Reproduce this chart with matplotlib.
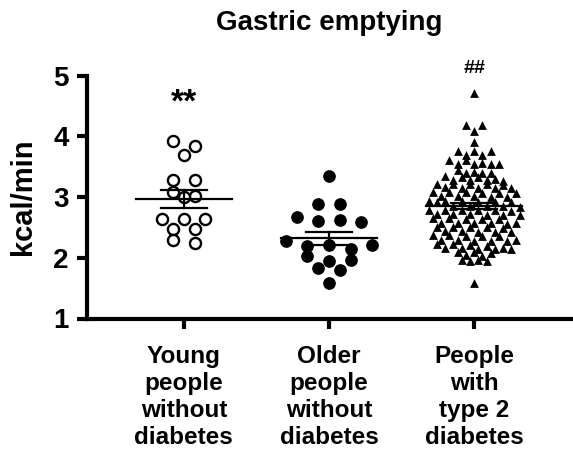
#! /usr/bin/env python
# -*- coding: utf-8 -*-

# Scatter dot plot of gastric emptying (kcal/min) for three groups,
# mean +/- SEM drawn over each cloud of points

import matplotlib
matplotlib.use("Agg")
import matplotlib.pyplot as plt
import numpy as np

plt.rcParams['font.family'] = ['Liberation Sans', 'DejaVu Sans']
plt.rcParams['font.weight'] = 'bold'

title = "Gastric emptying"
ylabel = "kcal/min"
groups = ["Young\npeople\nwithout\ndiabetes",
          "Older\npeople\nwithout\ndiabetes",
          "People\nwith\ntype 2\ndiabetes"]
marks = ["**", "", "##"]

young = [3.92, 3.84, 3.69, 3.28, 3.28, 3.09, 3.02, 3.00,
         2.63, 2.63, 2.63, 2.48, 2.48, 2.30, 2.25]

older = [3.35, 2.89, 2.88, 2.67, 2.62, 2.60, 2.59, 2.28, 2.21, 2.21,
         2.19, 2.15, 2.03, 1.96, 1.95, 1.83, 1.80, 1.59]

t2d = [4.71,
       4.19, 4.19, 4.08, 3.91,
       3.76, 3.76, 3.75, 3.69, 3.69,
       3.61, 3.61, 3.55, 3.55, 3.56, 3.54, 3.55,
       3.45, 3.40, 3.41, 3.40, 3.39, 3.33, 3.34, 3.33,
       3.28, 3.28, 3.29, 3.27, 3.28,
       3.21, 3.22, 3.21, 3.20, 3.22,
       3.15, 3.14, 3.15, 3.16, 3.14,
       3.08, 3.07, 3.08, 3.06, 3.08, 3.07,
       3.01, 3.00, 3.01, 3.00, 3.02,
       2.93, 2.92, 2.93, 2.92, 2.93, 2.91, 2.92,
       2.86, 2.85, 2.86, 2.85, 2.84,
       2.79, 2.78, 2.79, 2.78, 2.79, 2.77,
       2.72, 2.71, 2.72, 2.71, 2.70, 2.72,
       2.65, 2.64, 2.65, 2.64, 2.63,
       2.58, 2.57, 2.58, 2.57, 2.58, 2.56,
       2.51, 2.50, 2.51, 2.50, 2.49,
       2.44, 2.43, 2.44, 2.43, 2.42,
       2.37, 2.36, 2.37, 2.35, 2.36,
       2.29, 2.28, 2.29, 2.28, 2.29, 2.27,
       2.22, 2.21, 2.22, 2.20,
       2.16, 2.15, 2.16, 2.15, 2.14, 2.16,
       2.09, 2.08, 2.09,
       2.04, 2.03,
       1.96, 1.95, 1.96, 1.95,
       1.58]


def row_offsets(values, bin_h, step, base):
    """
    Spread points of one group sideways, row by row (Prism style).
    :param values: y values of the group
    :return: x offsets in data units
    """
    values = np.asarray(values, dtype=float)
    offsets = np.zeros(len(values))
    bins = np.floor((values - base) / bin_h).astype(int)
    for b in np.unique(bins):
        idx = np.where(bins == b)[0]
        idx = idx[np.argsort(-values[idx], kind='stable')]
        n = len(idx)
        slots = np.arange(n) - (n - 1) / 2.0
        order = np.concatenate([slots[::2], slots[1::2]])
        offsets[idx] = order * step
    return offsets


def mean_sem(ax, x, values, half_w=0.33, half_e=0.16):
    values = np.asarray(values, dtype=float)
    m = values.mean()
    sem = values.std(ddof=1) / np.sqrt(len(values))
    ax.plot([x - half_w, x + half_w], [m, m], color='k', lw=1.6, zorder=4)
    ax.plot([x, x], [m - sem, m + sem], color='k', lw=1.6, zorder=4)
    for y in (m - sem, m + sem):
        ax.plot([x - half_e, x + half_e], [y, y], color='k', lw=1.6, zorder=4)


fig = plt.figure(figsize=(5.73, 4.54), dpi=100)
ax = fig.add_axes([87 / 573, 135.5 / 454, 484 / 573, 243 / 454])

# open circles, filled circles, triangles
x0 = 0 + row_offsets(young, 0.2, 0.149, 2.2)
ax.scatter(x0, young, s=64, facecolors='white', edgecolors='k',
           linewidths=1.7, zorder=3)
x1 = 1 + row_offsets(older, 0.2, 0.149, 1.5)
ax.scatter(x1, older, s=66, color='k', zorder=3)
x2 = 2 + row_offsets(t2d, 0.14, 0.057, 1.55)
ax.scatter(x2, t2d, s=40, marker='^', color='k', linewidths=0, zorder=3)

for i, vals in enumerate([young, older, t2d]):
    mean_sem(ax, i, vals)

ax.text(0, 4.55, marks[0], ha='center', va='center', fontsize=24,
        fontweight='bold')
ax.text(2, 5.12, marks[2], ha='center', va='center', fontsize=14,
        fontweight='bold', clip_on=False)

ax.set_xlim(-0.667, 2.667)
ax.set_ylim(1, 5)
ax.set_yticks([1, 2, 3, 4, 5])
ax.set_xticks([0, 1, 2])
ax.set_xticklabels(groups, fontsize=17.5, fontweight='bold',
                   linespacing=1.22)
ax.set_yticklabels(['1', '2', '3', '4', '5'], fontsize=20,
                   fontweight='bold')
ax.set_ylabel(ylabel, fontsize=21, fontweight='bold')
ax.yaxis.set_label_coords(-0.103, 0.5)
fig.text(329 / 573, 1 - 23 / 454, title, ha='center', va='center',
         fontsize=20, fontweight='bold')

for s in ['top', 'right']:
    ax.spines[s].set_visible(False)
for s in ['left', 'bottom']:
    ax.spines[s].set_linewidth(3)
ax.tick_params(axis='both', width=3, length=7)
ax.tick_params(axis='y', pad=6)
ax.tick_params(axis='x', pad=12)

plt.savefig("out.png", dpi=100)
